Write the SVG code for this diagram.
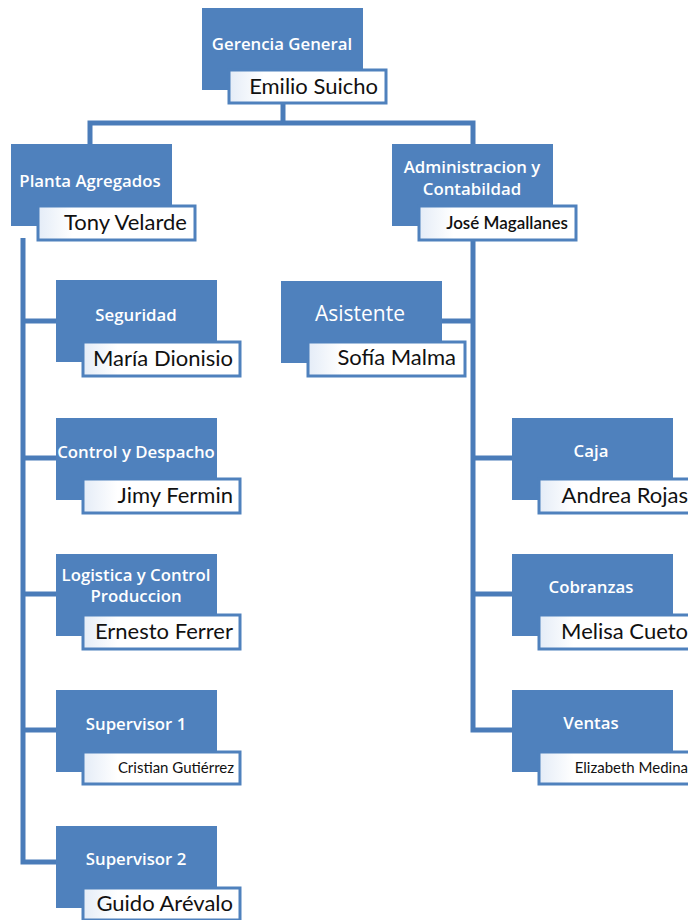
<svg xmlns="http://www.w3.org/2000/svg" width="688" height="920" viewBox="0 0 688 920">
  <defs>
    <linearGradient id="labelFill" x1="0" y1="0" x2="1" y2="0">
      <stop offset="0" stop-color="#e4ecf7"/>
      <stop offset="0.22" stop-color="#ffffff"/>
      <stop offset="1" stop-color="#ffffff"/>
    </linearGradient>
  </defs>
  <style>
    .box { fill: #4f81bd; }
    .label { fill: url(#labelFill); stroke: #4f81bd; stroke-width: 3; }
    .title { font-family: "Open Sans", "Liberation Sans", sans-serif; font-weight: 600; font-size: 16.8px; fill: #ffffff; text-anchor: middle; }
    .big { font-size: 21px; font-weight: 500; }
    .name { font-family: "Lato", "Liberation Sans", sans-serif; font-size: 22px; fill: #111111; text-anchor: end; }
    .small { font-size: 17px; font-weight: 600; }
    .tiny { font-size: 15px; }
    .wire { fill: none; stroke: #4a7cb9; stroke-width: 5; }
  </style>

  <g id="connectors">
    <path class="wire" d="M90 146 V123 H473 V146"/>
    <path class="wire" d="M283 100 V123"/>
    <path class="wire" d="M23 238 V862 H58"/>
    <path class="wire" d="M23 321 H58"/>
    <path class="wire" d="M23 458 H58"/>
    <path class="wire" d="M23 594 H58"/>
    <path class="wire" d="M23 730 H58"/>
    <path class="wire" d="M473 236 V730 H514"/>
    <path class="wire" d="M473 321 H440"/>
    <path class="wire" d="M473 458 H514"/>
    <path class="wire" d="M473 594 H514"/>
  </g>

  <g id="gerencia-general">
    <rect class="box" x="202" y="8" width="161" height="82"/>
    <rect class="label" x="229" y="70" width="157" height="33"/>
    <text class="title" x="282" y="50">Gerencia General</text>
    <text class="name" x="378" y="94">Emilio Suicho</text>
  </g>

  <g id="planta-agregados">
    <rect class="box" x="11" y="144" width="161" height="82"/>
    <rect class="label" x="38" y="206" width="157" height="34"/>
    <text class="title" x="90" y="187">Planta Agregados</text>
    <text class="name" x="187" y="230">Tony Velarde</text>
  </g>

  <g id="administracion">
    <rect class="box" x="392" y="144" width="161" height="82"/>
    <rect class="label" x="419" y="206" width="157" height="34"/>
    <text class="title" x="472" y="173">Administracion y</text>
    <text class="title" x="472" y="195">Contabildad</text>
    <text class="name small" x="568" y="229">José Magallanes</text>
  </g>

  <g id="seguridad">
    <rect class="box" x="56" y="280" width="161" height="82"/>
    <rect class="label" x="83" y="342" width="157" height="34"/>
    <text class="title" x="136" y="321">Seguridad</text>
    <text class="name" x="233" y="366">María Dionisio</text>
  </g>

  <g id="control-despacho">
    <rect class="box" x="56" y="418" width="161" height="82"/>
    <rect class="label" x="83" y="479" width="157" height="34"/>
    <text class="title" x="136" y="458">Control y Despacho</text>
    <text class="name" x="233" y="503">Jimy Fermin</text>
  </g>

  <g id="logistica">
    <rect class="box" x="56" y="554" width="161" height="82"/>
    <rect class="label" x="83" y="615" width="157" height="34"/>
    <text class="title" x="136" y="581">Logistica y Control</text>
    <text class="title" x="136" y="602">Produccion</text>
    <text class="name" x="233" y="639">Ernesto Ferrer</text>
  </g>

  <g id="supervisor-1">
    <rect class="box" x="56" y="690" width="161" height="82"/>
    <rect class="label" x="83" y="752" width="157" height="32"/>
    <text class="title" x="136" y="730">Supervisor 1</text>
    <text class="name tiny" x="234" y="773">Cristian Gutiérrez</text>
  </g>

  <g id="supervisor-2">
    <rect class="box" x="56" y="826" width="161" height="82"/>
    <rect class="label" x="83" y="888" width="157" height="32"/>
    <text class="title" x="136" y="865">Supervisor 2</text>
    <text class="name" x="233" y="911">Guido Arévalo</text>
  </g>

  <g id="asistente">
    <rect class="box" x="281" y="281" width="161" height="82"/>
    <rect class="label" x="308" y="342" width="157" height="34"/>
    <text class="title big" x="360" y="321">Asistente</text>
    <text class="name" x="456" y="365">Sofía Malma</text>
  </g>

  <g id="caja">
    <rect class="box" x="512" y="418" width="161" height="82"/>
    <rect class="label" x="539" y="479" width="157" height="34"/>
    <text class="title" x="591" y="457">Caja</text>
    <text class="name" x="688" y="503">Andrea Rojas</text>
  </g>

  <g id="cobranzas">
    <rect class="box" x="512" y="554" width="161" height="82"/>
    <rect class="label" x="539" y="615" width="157" height="34"/>
    <text class="title" x="591" y="593">Cobranzas</text>
    <text class="name" x="688" y="639">Melisa Cueto</text>
  </g>

  <g id="ventas">
    <rect class="box" x="512" y="690" width="161" height="82"/>
    <rect class="label" x="539" y="752" width="157" height="32"/>
    <text class="title" x="591" y="729">Ventas</text>
    <text class="name tiny" x="688" y="773">Elizabeth Medina</text>
  </g>
</svg>
